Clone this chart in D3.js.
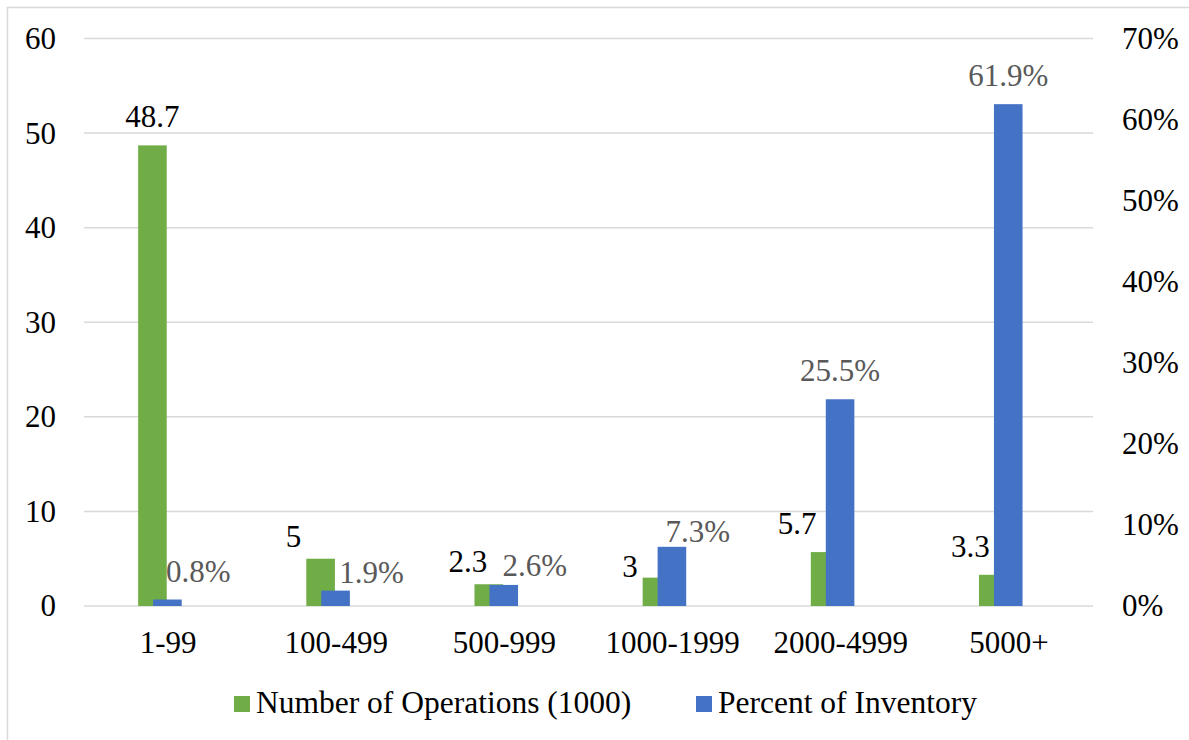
<!DOCTYPE html>
<html>
<head>
<meta charset="utf-8">
<script src="https://cdn.jsdelivr.net/npm/d3@7"></script>
<style>
  body { margin: 0; background: #fff; }
  svg { display: block; font-family: "Liberation Serif", "Times New Roman", serif; }
  .axis text { font-family: "Liberation Serif", "Times New Roman", serif; font-size: 31px; fill: #000; }
  .grid line { stroke: #d9d9d9; stroke-width: 1.5; }
</style>
</head>
<body>
<svg width="1189" height="740"></svg>
<script>
// data
const categories = ['1-99', '100-499', '500-999', '1000-1999', '2000-4999', '5000+'];
const operations = [48.7, 5, 2.3, 3, 5.7, 3.3];          // thousands, left axis
const inventoryPct = [0.008, 0.019, 0.026, 0.073, 0.255, 0.619]; // right axis
const leftTicks = [0, 10, 20, 30, 40, 50, 60];
const rightTicks = [0, 0.1, 0.2, 0.3, 0.4, 0.5, 0.6, 0.7];

// hand placed labels in the original (dx, dy nudges from default spot)
const opsLabelNudge = [[0, 0], [-27, 6], [-21, 6], [-27, 17], [-28, 0], [-23, 0]];
const pctLabelNudge = [[31, 0], [36, 10], [31, 9], [26, 13], [0, 0], [0, 0]];

const svg = d3.select('svg');
const plotLeft = 84, plotRight = 1093, plotTop = 38.5, plotBottom = 606;
const fontSize = 31;

// chart frame
svg.append('rect')
    .attr('x', 7.5).attr('y', 7.5)
    .attr('width', 1200).attr('height', 800)
    .attr('fill', 'none').attr('stroke', '#d9d9d9').attr('stroke-width', 1.5);

const x = d3.scaleBand().domain(categories).range([plotLeft, plotRight]);
const yL = d3.scaleLinear().domain([0, 60]).range([plotBottom, plotTop]);
const yR = d3.scaleLinear().domain([0, 0.7]).range([plotBottom, plotTop]);

const bw = x.bandwidth();
const barW = bw * 0.17;
const greenOff = -bw * 0.178; // bars overlap by half
const blueOff = -bw * 0.089;

// gridlines
svg.append('g').attr('class', 'grid')
    .selectAll('line').data(leftTicks).enter().append('line')
    .attr('x1', plotLeft).attr('x2', plotRight)
    .attr('y1', d => yL(d)).attr('y2', d => yL(d));

// left axis
const gL = svg.append('g').attr('class', 'axis')
    .attr('transform', `translate(${plotLeft},0)`)
    .call(d3.axisLeft(yL).tickValues(leftTicks).tickSize(0).tickPadding(28));
gL.select('.domain').remove();

// right axis
const gR = svg.append('g').attr('class', 'axis')
    .attr('transform', `translate(${plotRight},0)`)
    .call(d3.axisRight(yR).tickValues(rightTicks).tickSize(0).tickPadding(29).tickFormat(d3.format('.0%')));
gR.select('.domain').remove();

// category axis
const gB = svg.append('g').attr('class', 'axis')
    .attr('transform', `translate(0,${plotBottom})`)
    .call(d3.axisBottom(x).tickSize(0));
gB.select('.domain').remove();
gB.selectAll('text').attr('dy', null).attr('y', 47);

// green bars
svg.append('g').selectAll('rect').data(operations).enter().append('rect')
    .attr('x', (d, i) => x(categories[i]) + bw / 2 + greenOff)
    .attr('y', d => yL(d))
    .attr('width', barW)
    .attr('height', d => plotBottom - yL(d))
    .attr('fill', '#70ad47');

// blue bars
svg.append('g').selectAll('rect').data(inventoryPct).enter().append('rect')
    .attr('x', (d, i) => x(categories[i]) + bw / 2 + blueOff)
    .attr('y', d => yR(d))
    .attr('width', barW)
    .attr('height', d => plotBottom - yR(d))
    .attr('fill', '#4472c4');

// value labels
svg.append('g').selectAll('text').data(operations).enter().append('text')
    .attr('x', (d, i) => x(categories[i]) + bw / 2 + greenOff + barW / 2 + opsLabelNudge[i][0])
    .attr('y', (d, i) => yL(d) - 18 + opsLabelNudge[i][1])
    .attr('text-anchor', 'middle')
    .attr('font-size', fontSize)
    .attr('fill', '#000')
    .text(d => d);

svg.append('g').selectAll('text').data(inventoryPct).enter().append('text')
    .attr('x', (d, i) => x(categories[i]) + bw / 2 + blueOff + barW / 2 + pctLabelNudge[i][0])
    .attr('y', (d, i) => yR(d) - 18 + pctLabelNudge[i][1])
    .attr('text-anchor', 'middle')
    .attr('font-size', fontSize)
    .attr('fill', '#595959')
    .text(d => d3.format('.1%')(d));

// legend
const legend = [
    {name: 'Number of Operations (1000)', color: '#70ad47', x: 234},
    {name: 'Percent of Inventory', color: '#4472c4', x: 696}
];
const lg = svg.append('g').selectAll('g').data(legend).enter().append('g')
    .attr('transform', d => `translate(${d.x},696)`);
lg.append('rect').attr('width', 16).attr('height', 16).attr('fill', d => d.color);
lg.append('text').attr('x', 22).attr('y', 17)
    .attr('font-size', 31.5).attr('fill', '#000')
    .text(d => d.name);
</script>
</body>
</html>
